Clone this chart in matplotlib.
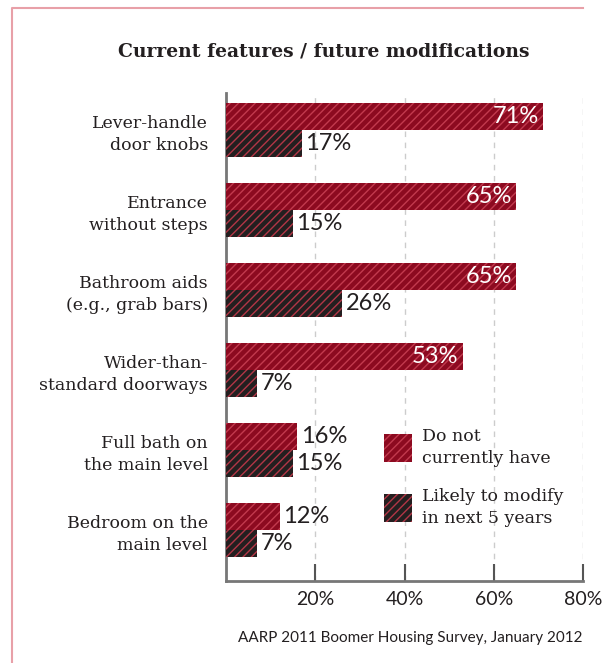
import numpy as np
import matplotlib
matplotlib.use('Agg')
import matplotlib.pyplot as plt
from matplotlib.patches import Patch
from matplotlib.lines import Line2D

# data
categories = ['Lever-handle\ndoor knobs', 'Entrance\nwithout steps', 'Bathroom aids\n(e.g., grab bars)',
              'Wider-than-\nstandard doorways', 'Full bath on\nthe main level', 'Bedroom on the\nmain level']
do_not_have = [71, 65, 65, 53, 16, 12]
likely_modify = [17, 15, 26, 7, 15, 7]
series_names = ['Do not\ncurrently have', 'Likely to modify\nin next 5 years']
xticks = [20, 40, 60, 80]

RED = '#8c0a20'
RED_HATCH = '#c23a4e'
DARK = '#231f20'
DARK_HATCH = '#b23646'
TEXT = '#231f20'
SERIF = 'DejaVu Serif'
SANS = 'Lato'

plt.rcParams['hatch.linewidth'] = 1.0

W, H = 611, 663
fig = plt.figure(figsize=(W / 100, H / 100), dpi=100)
ax = fig.add_axes([226 / W, 1 - 581 / H, (583 - 226) / W, (581 - 93) / H])

y = np.arange(len(categories))
h = 27 / 80
ax.barh(y - h / 2, do_not_have, height=h, color=RED, edgecolor=RED_HATCH, hatch='////', linewidth=0, zorder=3)
ax.barh(y + h / 2, likely_modify, height=h, color=DARK, edgecolor=DARK_HATCH, hatch='////', linewidth=0, zorder=3)

for i, v in enumerate(do_not_have):
    if v > 40:
        ax.text(v - 0.9, i - h / 2, f'{v}%', ha='right', va='center', color='white',
                fontsize=17, family=SANS, zorder=4)
    else:
        ax.text(v + 0.8, i - h / 2, f'{v}%', ha='left', va='center', color=TEXT,
                fontsize=17, family=SANS, zorder=4)
for i, v in enumerate(likely_modify):
    ax.text(v + 0.8, i + h / 2, f'{v}%', ha='left', va='center', color=TEXT,
            fontsize=17, family=SANS, zorder=4)

ax.set_xlim(0, 80)
ax.set_ylim((581 - 130) / 80, (93 - 130) / 80)

ax.set_yticks(y)
ax.set_yticklabels(categories, family=SERIF, fontsize=12.5, color=TEXT, linespacing=1.35)
ax.tick_params(axis='y', length=0, pad=13)
for lab in ax.get_yticklabels():
    lab.set_horizontalalignment('right')

ax.set_xticks(xticks)
ax.set_xticklabels([f'{t}%' for t in xticks], family=SANS, fontsize=14, color=TEXT)
ax.tick_params(axis='x', direction='in', length=12, width=1.5, color='#555555', pad=7)
for t in xticks:
    ax.axvline(t, color='#cccccc', lw=1, ls=(0, (4, 4)), zorder=1)

for s in ['top', 'right']:
    ax.spines[s].set_visible(False)
for s in ['left', 'bottom']:
    ax.spines[s].set_color('#777777')
    ax.spines[s].set_linewidth(2)

handles = [Patch(facecolor=RED, edgecolor=RED_HATCH, hatch='////', linewidth=0),
           Patch(facecolor=DARK, edgecolor=DARK_HATCH, hatch='////', linewidth=0)]
leg = ax.legend(handles, series_names, loc='upper left', bbox_to_anchor=(368 / W, 1 - 412 / H),
                bbox_transform=fig.transFigure, frameon=False, prop={'family': SERIF, 'size': 12.5},
                handlelength=1.65, handleheight=2.1, handletextpad=0.55, labelspacing=1.2)
for t in leg.get_texts():
    t.set_color(TEXT)
    t.set_linespacing(1.4)

fig.text(324 / W, 1 - 52 / H, 'Current features / future modifications', ha='center', va='center',
         family=SERIF, fontweight='bold', fontsize=13.5, color=TEXT)
fig.text(583 / W, 1 - 638 / H, 'AARP 2011 Boomer Housing Survey, January 2012', ha='right', va='center',
         family=SANS, fontsize=11, color=TEXT)

# pink frame on top and left
fig.add_artist(Line2D([12 / W, 12 / W, 583 / W], [0, 1 - 8 / H, 1 - 8 / H],
                      transform=fig.transFigure, color='#e8a0a8', lw=1.5))

fig.savefig('out.png', dpi=100)
